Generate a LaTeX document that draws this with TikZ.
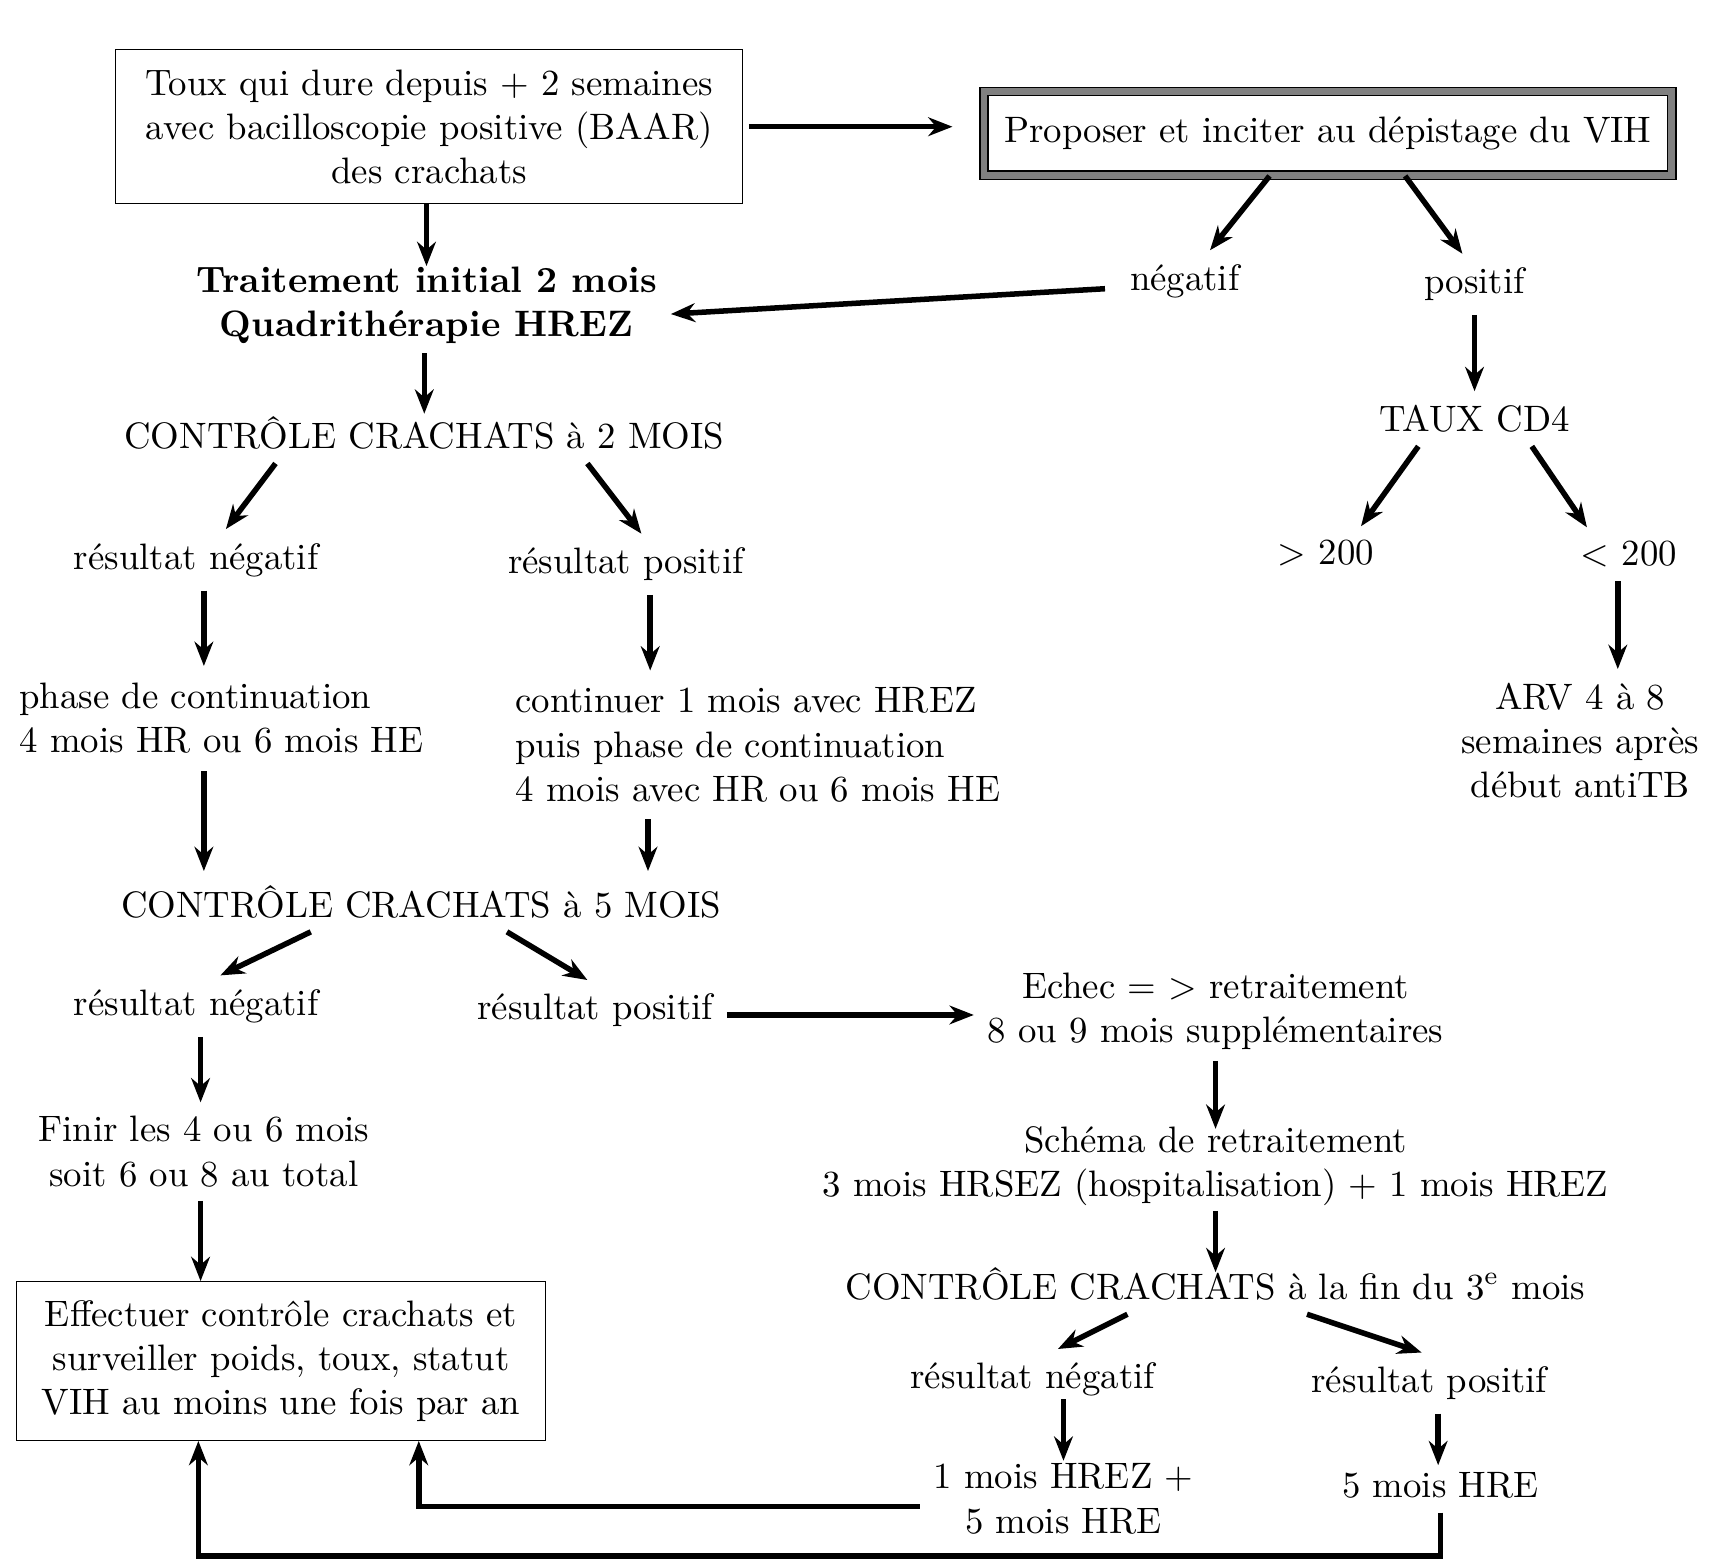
\documentclass[tikz,border=0pt]{standalone}
\usepackage{tikz}
\usetikzlibrary{arrows.meta}
\tikzset{>={Stealth[length=2.2mm,width=1.7mm]}}
\tikzset{arr/.style={->, line width=0.5mm},
  txt/.style={inner sep=1.2mm, align=center, font=\fontsize{9.5}{11.4}\selectfont},
  boite/.style={txt, draw, line width=0.3pt}}

\begin{document}
\begin{tikzpicture}[x=0.1mm, y=-0.1mm]
\useasboundingbox (0,0) rectangle (1568,1417);
% left column
\node[boite, minimum width=56.9mm, minimum height=14mm] (box1) at (389.5,115) {Toux qui dure depuis + 2 semaines\\avec bacilloscopie positive (BAAR)\\des crachats};
\node[txt, font=\fontsize{9.5}{11.4}\selectfont\bfseries] (trait) at (387,277) {Traitement initial 2 mois\\Quadrithérapie HREZ};
\node[txt] (ctrl2) at (385,393) {CONTRÔLE CRACHATS à 2 MOIS};
\node[txt] (neg1) at (178,508) {résultat négatif};
\node[txt] (pos1) at (568,512) {résultat positif};
\node[txt, align=left, anchor=west, inner sep=0] (cont1) at (17,652) {phase de continuation\\4 mois HR ou 6 mois HE};
\node[txt, align=left, anchor=west, inner sep=0] (cont2) at (467,676) {continuer 1 mois avec HREZ\\puis phase de continuation\\4 mois avec HR ou 6 mois HE};
\node[txt] (ctrl5) at (382,818) {CONTRÔLE CRACHATS à 5 MOIS};
\node[txt] (neg2) at (178,913) {résultat négatif};
\node[txt] (pos2) at (540,917) {résultat positif};
\node[txt] (finir) at (185,1045) {Finir les 4 ou 6 mois\\soit 6 ou 8 au total};
\node[boite, minimum width=48mm, minimum height=14.4mm] (box3) at (255,1235) {Effectuer contrôle crachats et\\surveiller poids, toux, statut\\VIH au moins une fois par an};
% right column
\node[txt, draw=black, double=gray, double distance=0.6mm, line width=0.4pt, minimum width=62.4mm, minimum height=7.6mm] (box2) at (1205,121) {Proposer et inciter au dépistage du VIH};
\node[txt] (neg0) at (1075,255) {négatif};
\node[txt] (pos0) at (1338,258) {positif};
\node[txt] (cd4) at (1338,380) {TAUX CD4};
\node[txt] (gt) at (1203,502) {\textgreater{} 200};
\node[txt] (lt) at (1478,503) {\textless{} 200};
\node[txt] (arv) at (1434,672) {ARV 4 à 8\\semaines après\\début antiTB};
\node[txt] (echec) at (1103,918) {Echec = \textgreater{} retraitement\\8 ou 9 mois supplémentaires};
\node[txt] (schema) at (1103,1058) {Schéma de retraitement\\3 mois HRSEZ (hospitalisation) + 1 mois HREZ};
\node[txt] (ctrl3) at (1103,1165) {CONTRÔLE CRACHATS à la fin du 3\textsuperscript{e} mois};
\node[txt] (neg3) at (937,1252) {résultat négatif};
\node[txt] (pos3) at (1297,1255) {résultat positif};
\node[txt] (hrez) at (965,1360) {1 mois HREZ +\\5 mois HRE};
\node[txt] (hre) at (1307,1348) {5 mois HRE};
\coordinate (coin) at (180,1412);

% arrows
\draw[arr] ([xshift=0.5mm]box1.east) -- ([xshift=-2.8mm]box2.west |- box1.east);
\draw[arr] ([xshift=-0.25mm]box1.south) -- ([xshift=-0.25mm, yshift=-1.2mm]box1.south |- trait.north);
\draw[arr] ([xshift=-5.3mm]box2.south) -- ([xshift=2.3mm]neg0.north);
\draw[arr] ([xshift=7mm]box2.south) -- ([xshift=-1.1mm]pos0.north);
\draw[arr] ([xshift=-1mm, yshift=-0.7mm]neg0.west) -- ([yshift=-0.8mm]trait.east);
\draw[arr] ([xshift=-0.2mm, yshift=0.4mm]trait.south) -- ([xshift=-0.2mm, yshift=-1mm]trait.south |- ctrl2.north);
\draw[arr] ([xshift=-13.5mm]ctrl2.south) -- ([xshift=2.7mm]neg1.north);
\draw[arr] ([xshift=14.8mm]ctrl2.south) -- ([xshift=1.4mm]pos1.north);
\draw[arr] ([xshift=0.7mm]neg1.south) -- ([xshift=0.7mm, yshift=1.5mm]neg1.south |- cont1.north);
\draw[arr] ([xshift=0.7mm, yshift=-1.5mm]neg1.south |- cont1.south) -- ([xshift=0.7mm]neg1.south |- ctrl5.north);
\draw[arr] ([xshift=2.2mm]pos1.south) -- ([xshift=2.2mm, yshift=1.5mm]pos1.south |- cont2.north);
\draw[arr] ([xshift=2mm, yshift=-1.5mm]pos1.south |- cont2.south) -- ([xshift=2mm]pos1.south |- ctrl5.north);
\draw[arr] ([xshift=-10mm]ctrl5.south) -- ([xshift=2.2mm]neg2.north);
\draw[arr] ([xshift=7.8mm]ctrl5.south) -- ([xshift=-0.7mm]pos2.north);
\draw[arr] ([yshift=-0.4mm]pos2.east) -- ([yshift=-0.4mm]echec.west |- pos2.east);
\draw[arr] ([xshift=0.4mm]neg2.south) -- ([xshift=0.4mm]neg2.south |- finir.north);
\draw[arr] ([xshift=0.4mm]neg2.south |- finir.south) -- ([xshift=0.4mm]neg2.south |- box3.north);
\draw[arr] (pos0.south) -- (cd4.north);
\draw[arr] ([xshift=-5.1mm]cd4.south) -- ([xshift=3.2mm]gt.north);
\draw[arr] ([xshift=5.2mm]cd4.south) -- ([xshift=-3.8mm]lt.north);
\draw[arr] ([xshift=-1mm]lt.south) -- ([xshift=-1mm]lt.south |- arv.north);
\draw[arr] ([yshift=0.3mm]echec.south) -- ([yshift=-1.5mm]schema.north);
\draw[arr] ([yshift=0.8mm]schema.south) -- ([yshift=-1.7mm]ctrl3.north);
\draw[arr] ([xshift=-8mm]ctrl3.south) -- ([xshift=2.3mm]neg3.north);
\draw[arr] ([xshift=8.3mm]ctrl3.south) -- ([xshift=-0.7mm]pos3.north);
\draw[arr] ([xshift=2.8mm, yshift=1mm]neg3.south) -- ([xshift=2.8mm, yshift=-1mm]neg3.south |- hrez.north);
\draw[arr] ([xshift=0.8mm]pos3.south) -- ([xshift=0.8mm, yshift=-0.6mm]pos3.south |- hre.north);
\draw[arr] ([yshift=-0.7mm]hrez.west) -| ([xshift=12.5mm]box3.south);
\draw[arr] (hre.south) |- (coin) -- (coin |- box3.south);
\end{tikzpicture}
\end{document}
